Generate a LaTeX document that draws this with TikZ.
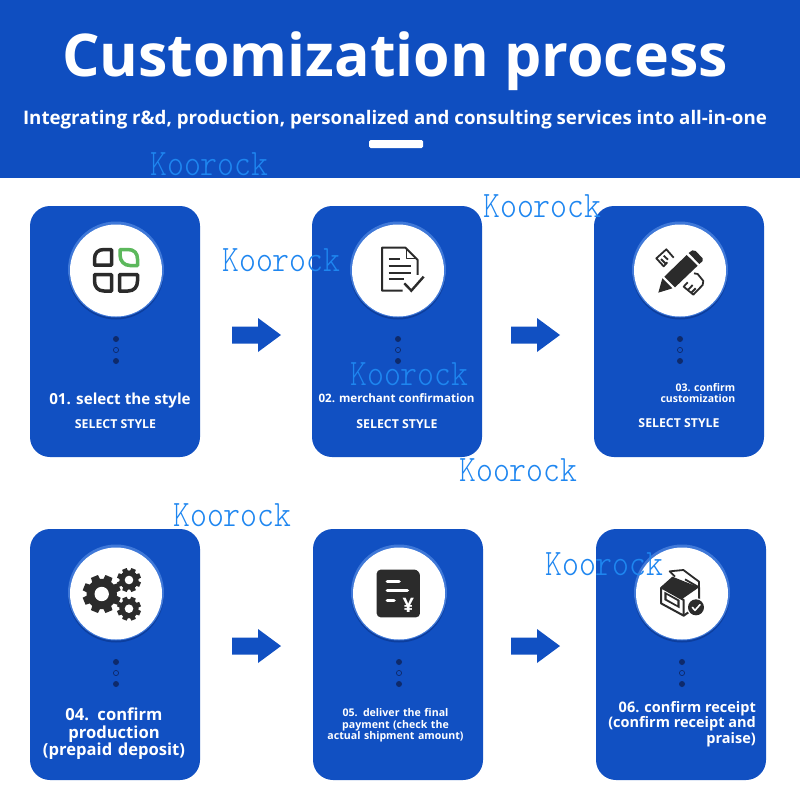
\documentclass[tikz,border=0pt]{standalone}
\usepackage{fontspec}
\usepackage{graphicx}
\setmainfont{Open Sans}
\newfontfamily\wmfont{Latin Modern Mono Light}
\definecolor{cardblue}{HTML}{1150C2}
\definecolor{headblue}{HTML}{0F4EC0}
\definecolor{rimblue}{HTML}{3F78D8}
\definecolor{shadeblue}{HTML}{0C3E9E}
\definecolor{dotnavy}{HTML}{0E2A6B}
\definecolor{icondark}{HTML}{2B2B2B}
\definecolor{leaf}{HTML}{5CB85C}
\definecolor{wmark}{HTML}{1E86F0}
\tikzset{
  card/.style={fill=cardblue,rounded corners=20pt},
  disc/.style={circle,fill=white,minimum size=92pt,inner sep=0pt},
  rim/.style={circle,fill=rimblue,minimum size=96pt,inner sep=0pt},
  shade/.style={circle,fill=shadeblue,minimum size=96pt,inner sep=0pt},
  flow/.style={fill=cardblue},
  lbl/.style={text=white,font=\bfseries,align=center,inner sep=0pt},
  wm/.style={text=wmark,inner sep=0pt,anchor=base west},
  ico/.style={shift={(#1)},x=0.3333pt,y=-0.3333pt},
  qd/.style={draw=icondark,line width=3.5pt,fill=none,line join=round},
}
\newcommand{\fs}[2]{\fontsize{#1}{#2}\selectfont}
\newcommand{\wmtext}{\scalebox{1}[1.16]{\wmfont\fontsize{32.2}{33}\selectfont Koorock}}
\newcommand{\cardat}[3]{% name, left x, top y
  \path[card] (#2,#3) rectangle ++(170,251);
  \node[shade] at (#2+86,#3+65.5) {};
  \node[rim] at (#2+86,#3+63.5) {};
  \node[disc] (#1) at (#2+86,#3+64.5) {};
  \fill[dotnavy] (#2+86,#3+133) circle (3);
  \draw[dotnavy,line width=0.7pt] (#2+86,#3+144) circle (2.6);
  \fill[dotnavy] (#2+86,#3+155) circle (3);
}
\newcommand{\flowarrow}[3]{% name, left x, centre y
  \fill[flow] (#2,#3-8.5) -- ++(26,0) -- ++(0,-8.5) -- ++(23,17) -- ++(-23,17) -- ++(0,-8.5) -- ++(-26,0) -- cycle;
  \coordinate (#1) at (#2+24,#3);
}
\newcommand{\gear}[4]{% x, y, outer radius, hole radius
  \fill[icondark] (#1,#2) circle (#3*0.8);
  \foreach \a in {0,45,...,315}{
    \fill[icondark,shift={(#1,#2)},rotate=\a+22.5] (-#3*0.27,0) -- (-#3*0.2,#3) -- (#3*0.2,#3) -- (#3*0.27,0) -- cycle;
  }
  \fill[white] (#1,#2) circle (#4);
}
\begin{document}
\begin{tikzpicture}[x=1pt,y=-1pt]
\useasboundingbox (0,0) rectangle (800,800);
\fill[white] (0,0) rectangle (800,800);
% header
\fill[headblue] (0,0) rectangle (800,178);
\node[lbl,font=\bfseries\fs{59}{60}] (title) at (395,61) {Customization process};
\node[lbl,font=\bfseries\fs{18.7}{20}] (sub) at (395,120) {Integrating r\&d, production, personalized and consulting services into all-in-one};
\fill[white,rounded corners=1.5pt] (369,140) rectangle (423,148);
% cards
\cardat{c1}{30}{206}
\cardat{c2}{312}{206}
\cardat{c3}{594}{206}
\cardat{c4}{30}{529}
\cardat{c5}{313}{529}
\cardat{c6}{596}{529}
% arrows
\flowarrow{a1}{232}{335}
\flowarrow{a2}{511}{335}
\flowarrow{a3}{232}{646}
\flowarrow{a4}{511}{646}
% labels
\node[lbl,font=\bfseries\fs{15.2}{18}] (t1) at (120,401) {01. select the style};
\node[lbl,font=\bfseries\fs{12.3}{14}] (s1) at (115.5,424) {SELECT STYLE};
\node[lbl,font=\bfseries\fs{11.6}{14}] (t2) at (396.5,398) {02. merchant confirmation};
\node[lbl,font=\bfseries\fs{12.3}{14}] (s2) at (397,424) {SELECT STYLE};
\node[lbl,font=\bfseries\fs{10.5}{11},align=right,anchor=north east] (t3) at (735.5,383) {03. confirm\\customization};
\node[lbl,font=\bfseries\fs{12.3}{14}] (s3) at (679,423) {SELECT STYLE};
\node[lbl,font=\bfseries\fs{16.6}{17.6},text width=170pt] (t4) at (114,734) {04. confirm\\production\\(prepaid deposit)};
\node[lbl,font=\bfseries\fs{10.6}{11.6},text width=170pt] (t5) at (395.5,725.5) {05. deliver the final\\payment (check the\\actual shipment amount)};
\node[lbl,font=\bfseries\fs{14.5}{15.6},align=right,anchor=north east] (t6) at (756,701) {06. confirm receipt\\(confirm receipt and\\praise)};
% icon 1
\draw[qd] (111.5,249.5) -- (104,249.5) .. controls (98,249.5) and (94.5,253) .. (94.5,259) -- (94.5,265) -- (111.5,265) -- cycle;
\draw[qd,draw=leaf] (120,249.5) -- (128,249.5) .. controls (134,249.5) and (137.5,253) .. (137.5,259) -- (137.5,265.5) -- (130,265.5) .. controls (124,265.5) and (120,261) .. (120,255) -- cycle;
\draw[qd] (94.5,274.5) -- (111.5,274.5) -- (111.5,291) -- (104,291) .. controls (98,291) and (94.5,287) .. (94.5,281) -- cycle;
\draw[qd] (119.5,274.5) -- (137.5,274.5) -- (137.5,281) .. controls (137.5,287) and (134,291) .. (128,291) -- (119.5,291) -- cycle;
% icon 2
\begin{scope}[ico={352,225}]
\draw[icondark,line width=2pt,line join=round] (152,197) -- (90,197) -- (90,68) -- (160,68) -- (197,105) -- (197,150);
\draw[icondark,line width=1.6pt,line join=round] (163,70) -- (163,100) -- (195,100);
\foreach \yy/\xe in {102/145,123/178,143/178,163/155}{\draw[icondark,line width=2pt] (110,\yy) -- (\xe,\yy);}
\draw[icondark,line width=2.4pt,line join=miter] (157,175) -- (178,197) -- (215,155);
\end{scope}
% icon 3
\begin{scope}[ico={635,225}]
\fill[icondark] (70,203) -- (82,160) -- (112,190) -- cycle;
\fill[icondark] (88,155) -- (155,90) -- (188,122) -- (120,187) -- cycle;
\fill[icondark] (161,84) -- (172,76) -- (182,78) -- (203,100) -- (203,108) -- (193,117) -- cycle;
\draw[icondark,line width=1.8pt,line join=round] (116,98) -- (94,73) -- (64,100) -- (86,124) -- (97,112) (78,102) -- (92,116) (86,92) -- (99,104);
\draw[icondark,line width=1.8pt,line join=round] (177,145) -- (188,147) -- (205,168) -- (203,180) -- (175,209) -- (146,185) -- (158,172) (160,194) -- (173,180) (170,202) -- (182,190);
\end{scope}
% icon 4
\gear{101.7}{594}{19}{7.2}
\gear{129}{580}{12}{4.3}
\gear{129}{608.7}{12}{4.3}
% icon 5
\begin{scope}[ico={354,548}]
\fill[icondark,rounded corners=4pt] (68,65) -- (170,65) .. controls (190,65) and (198,75) .. (198,95) -- (198,208) -- (68,208) -- cycle;
\foreach \yy/\xa/\xe in {100/100/135,128/100/160,157/100/120}{\draw[white,line width=3.6pt,line cap=round] (\xa,\yy) -- (\xe,\yy);}
\node[text=white,font=\bfseries\fs{20}{22},inner sep=0pt] (yen) at (163,172) {¥};
\end{scope}
% icon 6
\begin{scope}[ico={635,550}]
\fill[icondark] (76,112) -- (112,80) -- (192,112) -- (140,148) -- cycle;
\draw[icondark,line width=2pt,line join=round] (78,112) -- (78,160) -- (146,197) -- (146,150) -- (78,112);
\draw[icondark,line width=2pt,line join=round] (146,197) -- (192,165) -- (192,112);
\fill[icondark] (88,125) -- (134,150) -- (134,175) -- (88,150) -- cycle;
\fill[white] (95,135) -- (127,153) -- (127,165) -- (95,147) -- cycle;
\draw[icondark,line width=1.8pt,line join=round] (120,80) -- (104,64) -- (145,60) -- (192,95) -- (192,112) -- (150,88);
\fill[white] (183,172) circle (28);
\fill[icondark] (183,172) circle (24);
\draw[white,line width=1.6pt,line cap=round,line join=round] (172,172) -- (180,181) -- (195,164);
\end{scope}
% watermarks
\node[wm] (w1) at (150,175) {\wmtext};
\node[wm] (w2) at (222,271) {\wmtext};
\node[wm] (w3) at (483,217) {\wmtext};
\node[wm] (w4) at (350,385) {\wmtext};
\node[wm] (w5) at (459,481) {\wmtext};
\node[wm] (w6) at (173,526) {\wmtext};
\node[wm] (w7) at (545,575) {\wmtext};
\end{tikzpicture}
\end{document}
